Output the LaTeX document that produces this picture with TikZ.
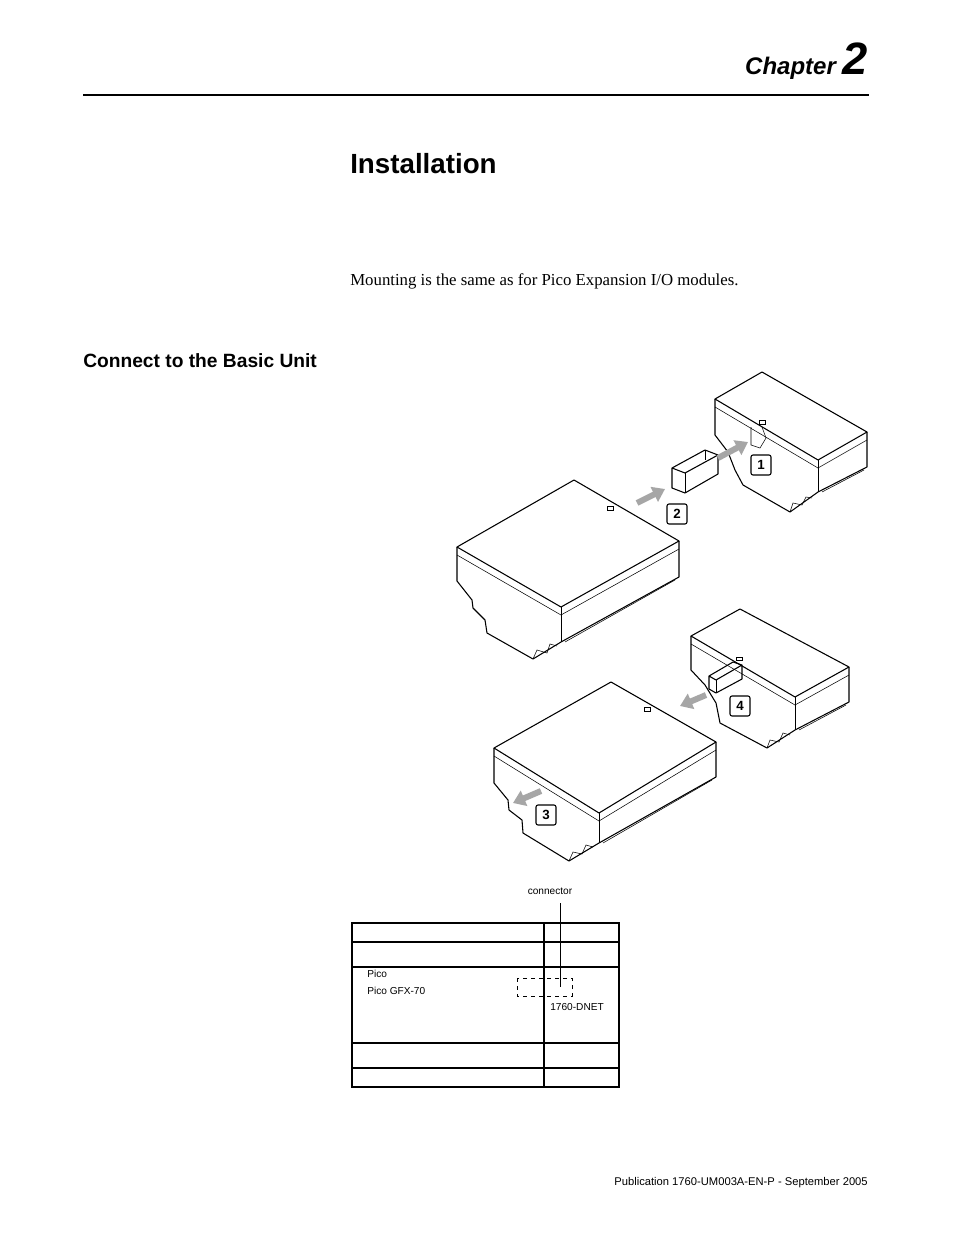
\documentclass[tikz,border=0pt]{standalone}
\usepackage{fontspec}
\setmainfont{Liberation Serif}
\setsansfont{Liberation Sans}
\usetikzlibrary{arrows.meta}

\tikzset{
	boxline/.style={line width=.8pt, line join=round},
	thinline/.style={line width=.4pt},
	push/.style={draw=gray!70, line width=4.5pt, -{Triangle[length=9pt, width=12pt]}},
	stepnum/.style={draw, line width=.8pt, rounded corners=1.5pt, inner sep=1.5pt, minimum size=15pt, font=\sffamily\bfseries},
	cell/.style={font=\sffamily\fontsize{7.6}{9}\selectfont, anchor=west, inner sep=0pt}
}

\begin{document}
\begin{tikzpicture}[x=0.75pt, y=-0.75pt]
	\useasboundingbox[fill=white] (0,0) rectangle (954,1235);
	% page heading
	\node[anchor=base east, font=\sffamily\bfseries\itshape, inner sep=0pt] (chap) at (868,74) {\fontsize{18}{20}\selectfont Chapter \fontsize{34}{34}\selectfont 2};
	\draw[line width=2.2pt] (83,95) -- (869,95);
	\node[anchor=base west, font=\sffamily\bfseries, inner sep=0pt] (title) at (350,173) {\fontsize{20.8}{24}\selectfont Installation};
	\node[anchor=base west, inner sep=0pt] (mount) at (350,285) {\fontsize{12.6}{14}\selectfont Mounting is the same as for Pico Expansion I/O modules.};
	\node[anchor=base west, font=\sffamily\bfseries, inner sep=0pt] (sect) at (83,367) {\fontsize{14.4}{17}\selectfont Connect to the Basic Unit};

	% basic unit (top left)
	\draw[boxline] (574,480) -- (457,547) -- (561,607) -- (679,541) -- cycle;
	\draw[thinline] (457,555) -- (561,615) -- (679,549);
	\draw[thinline] (561,607) -- (561,642);
	\draw[boxline] (679,541) -- (679,577) -- (561,642);
	\draw[thinline] (675,580) -- (565,642);
	\draw[boxline] (457,547) -- (457,581) -- (472,600) -- (473,608) -- (485,620) -- (487,633) -- (533,659) -- (561,642);
	\draw[thinline] (533,659) -- (537,650) -- (547,653) -- (550,644) -- (557,646);
	\draw[thinline] (607,506) rectangle (613,510);

	% expansion unit (top right)
	\draw[boxline] (762,372) -- (715,399) -- (818,460) -- (867,432) -- cycle;
	\draw[thinline] (715,407) -- (818,468) -- (867,440);
	\draw[thinline] (818,460) -- (818,492);
	\draw[boxline] (867,432) -- (867,467) -- (818,492);
	\draw[thinline] (864,470) -- (822,492);
	\draw[boxline] (715,399) -- (715,435) -- (728,452) -- (735,470) -- (743,485) -- (790,512) -- (818,492);
	\draw[thinline] (790,512) -- (793,503) -- (802,505) -- (806,497) -- (812,498);
	\draw[thinline] (759,420) rectangle (765,424);
	\draw[thinline] (751,427) -- (751,445) -- (760,448) -- (766,438) -- (762,427);

	% connector piece
	\draw[boxline] (672,468) -- (672,488) -- (685,493) -- (718,474) -- (718,455) -- (705,450) -- (672,468) -- (685,473) -- (718,455);
	\draw[thinline] (685,473) -- (685,493);
	\draw[thinline] (705,450) -- (705,460);
	\draw[push] (718,458) -- (748,442);
	\draw[push] (637,503) -- (665,489);
	\node[stepnum] (s1) at (761,465) {1};
	\node[stepnum] (s2) at (677,514) {2};

	% expansion unit with connector (middle right)
	\draw[boxline] (740,609) -- (691,636) -- (795,697) -- (849,667) -- cycle;
	\draw[thinline] (691,644) -- (795,705) -- (849,675);
	\draw[thinline] (795,697) -- (795,730);
	\draw[boxline] (849,667) -- (849,702) -- (795,730);
	\draw[thinline] (846,705) -- (799,730);
	\draw[boxline] (691,636) -- (691,670) -- (705,685) -- (716,703) -- (720,723) -- (767,748) -- (795,730);
	\draw[thinline] (767,748) -- (770,740) -- (779,742) -- (783,733) -- (790,735);
	\draw[thinline] (736,657) rectangle (742,660);
	\draw[boxline] (709,676) -- (709,689) -- (716,693) -- (742,679) -- (742,665) -- (733,662) -- (709,676) -- (716,680) -- (742,665);
	\draw[thinline] (716,680) -- (716,693);
	\draw[push] (706,695) -- (680,706);
	\node[stepnum] (s4) at (740,706) {4};

	% basic unit (bottom)
	\draw[boxline] (611,682) -- (494,748) -- (599,813) -- (716,742) -- cycle;
	\draw[thinline] (494,756) -- (599,821) -- (716,750);
	\draw[thinline] (599,813) -- (599,843);
	\draw[boxline] (716,742) -- (716,777) -- (599,843);
	\draw[thinline] (712,780) -- (603,843);
	\draw[boxline] (494,748) -- (494,783) -- (508,800) -- (509,810) -- (522,820) -- (523,833) -- (569,861) -- (599,843);
	\draw[thinline] (569,861) -- (573,852) -- (582,854) -- (586,845) -- (593,847);
	\draw[thinline] (644,707) rectangle (650,711);
	\draw[push] (541,791) -- (513,803);
	\node[stepnum] (s3) at (546,815) {3};

	% table
	\draw[line width=.8pt] (352,923) rectangle (619,1087);
	\foreach \yy in {942,967,1043,1068}
		\draw[line width=.8pt] (352,\yy) -- (619,\yy);
	\draw[line width=.8pt] (544,923) -- (544,1087);
	\node[cell] (pico) at (367,974) {Pico};
	\node[cell] (gfx) at (367,991) {Pico GFX-70};
	\draw[thinline, dashed] (517,978) rectangle (572,996);
	\node[cell] (dnet) at (550,1007) {1760-DNET};
	\node[cell, anchor=center, inner sep=1pt] (conn) at (550,891) {connector};
	\coordinate (cend) at (560,987);
	\draw[thinline] (560,903) -- (cend);

	% footer
	\node[anchor=base east, font=\sffamily, inner sep=0pt] (foot) at (868,1185) {\fontsize{8.4}{11}\selectfont Publication 1760-UM003A-EN-P - September 2005};
\end{tikzpicture}
\end{document}
